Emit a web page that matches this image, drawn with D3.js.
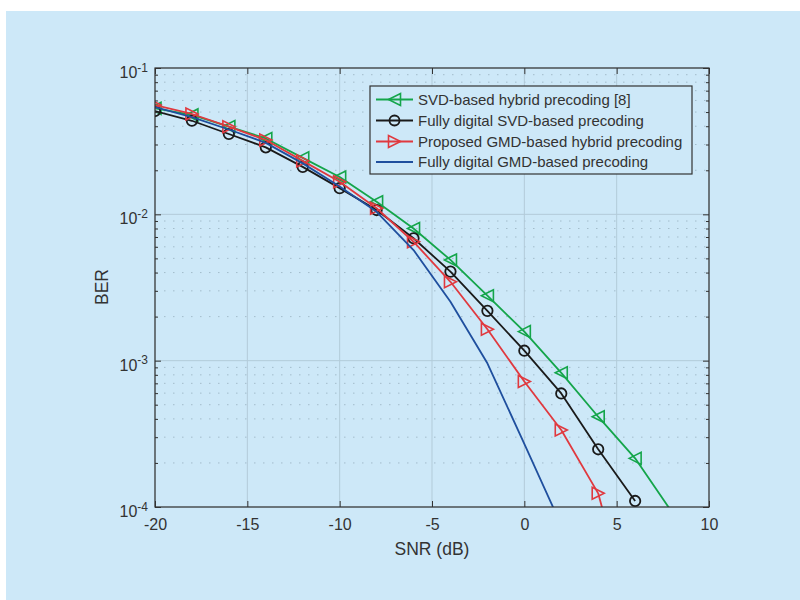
<!DOCTYPE html>
<html><head><meta charset="utf-8">
<script src="https://cdn.jsdelivr.net/npm/d3@7"></script>
<style>
body{margin:0;background:#fff;}
text{font-family:"Liberation Sans",Arial,Helvetica,sans-serif;fill:#333;}
</style>
</head><body>
<svg id="chart" width="800" height="600"></svg>
<script>
// ---------- data ----------
const snr = [-20,-18,-16,-14,-12,-10,-8,-6,-4,-2,0,2,4,6,8];
const svdHybrid  = [0.0530,0.0478,0.0398,0.0330,0.0243,0.0180,0.0122,0.0080,0.00488,0.00278,0.00158,0.000826,0.000414,0.000215,0.000092];
const svdDigital = [0.0508,0.0436,0.0354,0.0287,0.0211,0.0151,0.0107,0.00686,0.00406,0.00219,0.00117,0.000597,0.000248,0.000110];
const gmdHybrid  = [0.0558,0.0485,0.0397,0.0322,0.0232,0.0167,0.0110,0.0065,0.00346,0.00164,0.00072,0.000336,0.000124,0.0000145];
const gmdDigital = [0.0540,0.0462,0.0380,0.0308,0.0223,0.0155,0.0104,0.0057,0.00253,0.00096,0.00027,0.000075];
const seriesNames = ["SVD-based hybrid precoding [8]","Fully digital SVD-based precoding","Proposed GMD-based hybrid precoding","Fully digital GMD-based precoding"];
const xTicks = [-20,-15,-10,-5,0,5,10];
const yTickExps = [-1,-2,-3,-4];
const xLabel = "SNR (dB)";
const yLabel = "BER";

// ---------- styles ----------
const BG = "#cde8f8";
const colors = ["#14a54a","#1a1a1a","#e0393f","#1f4f9e"];
const markers = ["left","circle","right",null];

const svg = d3.select("#chart");
svg.append("rect").attr("x",6).attr("y",11).attr("width",794).attr("height",589).attr("fill",BG);

const L=155,R=709,T=68,B=507;
const x = d3.scaleLinear().domain([-20,10]).range([L,R]);
const y = d3.scaleLog().domain([1e-4,1e-1]).range([B,T]);

const majorY = yTickExps.map(e=>Math.pow(10,e));
const minorY = [];
for (let e=-4;e<-1;e++) for (let k=2;k<=9;k++) minorY.push(k*Math.pow(10,e));

// grid
const grid = svg.append("g");
grid.selectAll("line.my").data(minorY).join("line")
  .attr("x1",L).attr("x2",R).attr("y1",d=>y(d)).attr("y2",d=>y(d))
  .attr("stroke","#a3bccb").attr("stroke-width",1).attr("stroke-dasharray","1.5,7.5");
grid.selectAll("line.My").data(majorY).join("line")
  .attr("x1",L).attr("x2",R).attr("y1",d=>y(d)).attr("y2",d=>y(d))
  .attr("stroke","#b2cbd9").attr("stroke-width",1);
grid.selectAll("line.Mx").data(xTicks).join("line")
  .attr("x1",d=>x(d)).attr("x2",d=>x(d)).attr("y1",T).attr("y2",B)
  .attr("stroke","#b2cbd9").attr("stroke-width",1);

// clip
svg.append("clipPath").attr("id","clip").append("rect").attr("x",L).attr("y",T).attr("width",R-L).attr("height",B-T);

function markerPath(type, s){
  if(type==="left") return `M${-s},0L${s},${-s}L${s},${s}Z`;
  if(type==="right") return `M${s},0L${-s},${-s}L${-s},${s}Z`;
  return null;
}

const allSeries = [svdHybrid, svdDigital, gmdHybrid, gmdDigital];
const line = d3.line().x((d,i)=>x(snr[i])).y(d=>y(d));
const plot = svg.append("g").attr("clip-path","url(#clip)");
allSeries.forEach((vals,si)=>{
  plot.append("path").datum(vals).attr("d",line)
    .attr("fill","none").attr("stroke",colors[si]).attr("stroke-width",1.8).attr("stroke-linejoin","round");
  const m = markers[si];
  if(!m) return;
  const pts = vals.map((v,i)=>({x:snr[i],v})).filter(p=>p.v>=1e-4);
  if(m==="circle"){
    plot.selectAll(null).data(pts).join("circle")
      .attr("cx",p=>x(p.x)).attr("cy",p=>y(p.v)).attr("r",5.2)
      .attr("fill","none").attr("stroke",colors[si]).attr("stroke-width",1.8);
  } else {
    plot.selectAll(null).data(pts).join("path")
      .attr("transform",p=>`translate(${x(p.x)},${y(p.v)})`)
      .attr("d",markerPath(m,6))
      .attr("fill","none").attr("stroke",colors[si]).attr("stroke-width",1.6).attr("stroke-linejoin","miter");
  }
});

// axes
const axColor="#333";
function styleAxis(g){
  g.select(".domain").remove();
  g.selectAll(".tick line").attr("stroke",axColor).attr("stroke-width",1);
  g.selectAll("text").attr("fill","#333");
}
const xb = svg.append("g").attr("transform",`translate(0,${B})`)
  .call(d3.axisBottom(x).tickValues(xTicks).tickSize(-6).tickPadding(12).tickFormat(d=>String(d)));
styleAxis(xb);
xb.selectAll("text").attr("font-size",16).attr("font-family","Liberation Sans, Arial, sans-serif");
const xt = svg.append("g").attr("transform",`translate(0,${T})`)
  .call(d3.axisTop(x).tickValues(xTicks).tickSize(-6).tickFormat(""));
styleAxis(xt);

const yl = svg.append("g").attr("transform",`translate(${L},0)`)
  .call(d3.axisLeft(y).tickValues(majorY).tickSize(-6).tickPadding(8));
styleAxis(yl);
yl.selectAll(".tick text").each(function(d){
  const t=d3.select(this);
  const e=Math.round(Math.log10(d));
  t.text(null).attr("font-size",16).attr("dy","0.6em").attr("x",-7);
  t.append("tspan").text("10");
  t.append("tspan").attr("dy","-0.55em").attr("font-size",12).text(String(e));
});
const ylm = svg.append("g").attr("transform",`translate(${L},0)`)
  .call(d3.axisLeft(y).tickValues(minorY).tickSize(-3).tickFormat(""));
styleAxis(ylm);
const yr = svg.append("g").attr("transform",`translate(${R},0)`)
  .call(d3.axisRight(y).tickValues(majorY).tickSize(-6).tickFormat(""));
styleAxis(yr);
const yrm = svg.append("g").attr("transform",`translate(${R},0)`)
  .call(d3.axisRight(y).tickValues(minorY).tickSize(-3).tickFormat(""));
styleAxis(yrm);

// box
svg.append("rect").attr("x",L).attr("y",T).attr("width",R-L).attr("height",B-T)
  .attr("fill","none").attr("stroke",axColor).attr("stroke-width",1.2);

// labels
svg.append("text").attr("x",(L+R)/2).attr("y",555).attr("text-anchor","middle")
  .attr("font-size",17.5).text(xLabel);
svg.append("text").attr("transform","translate(108,287) rotate(-90)").attr("text-anchor","middle")
  .attr("font-size",17.5).text(yLabel);

// legend
const lg = svg.append("g");
lg.append("rect").attr("x",370).attr("y",86).attr("width",322).attr("height",88)
  .attr("fill",BG).attr("stroke","#333").attr("stroke-width",1.2);
const rowY = [99.5,120.5,141.5,162];
seriesNames.forEach((name,i)=>{
  const g = lg.append("g").attr("transform",`translate(0,${rowY[i]})`);
  g.append("line").attr("x1",376).attr("x2",413).attr("y1",0).attr("y2",0)
    .attr("stroke",colors[i]).attr("stroke-width",1.8);
  const m = markers[i];
  if(m==="circle") g.append("circle").attr("cx",394.5).attr("cy",0).attr("r",5).attr("fill","none").attr("stroke",colors[i]).attr("stroke-width",1.8);
  else if(m) g.append("path").attr("transform","translate(394.5,0)").attr("d",markerPath(m,6)).attr("fill","none").attr("stroke",colors[i]).attr("stroke-width",1.6);
  g.append("text").attr("x",418).attr("y",0).attr("dy","0.35em").attr("font-size",15).text(name);
});
</script>
</body></html>
